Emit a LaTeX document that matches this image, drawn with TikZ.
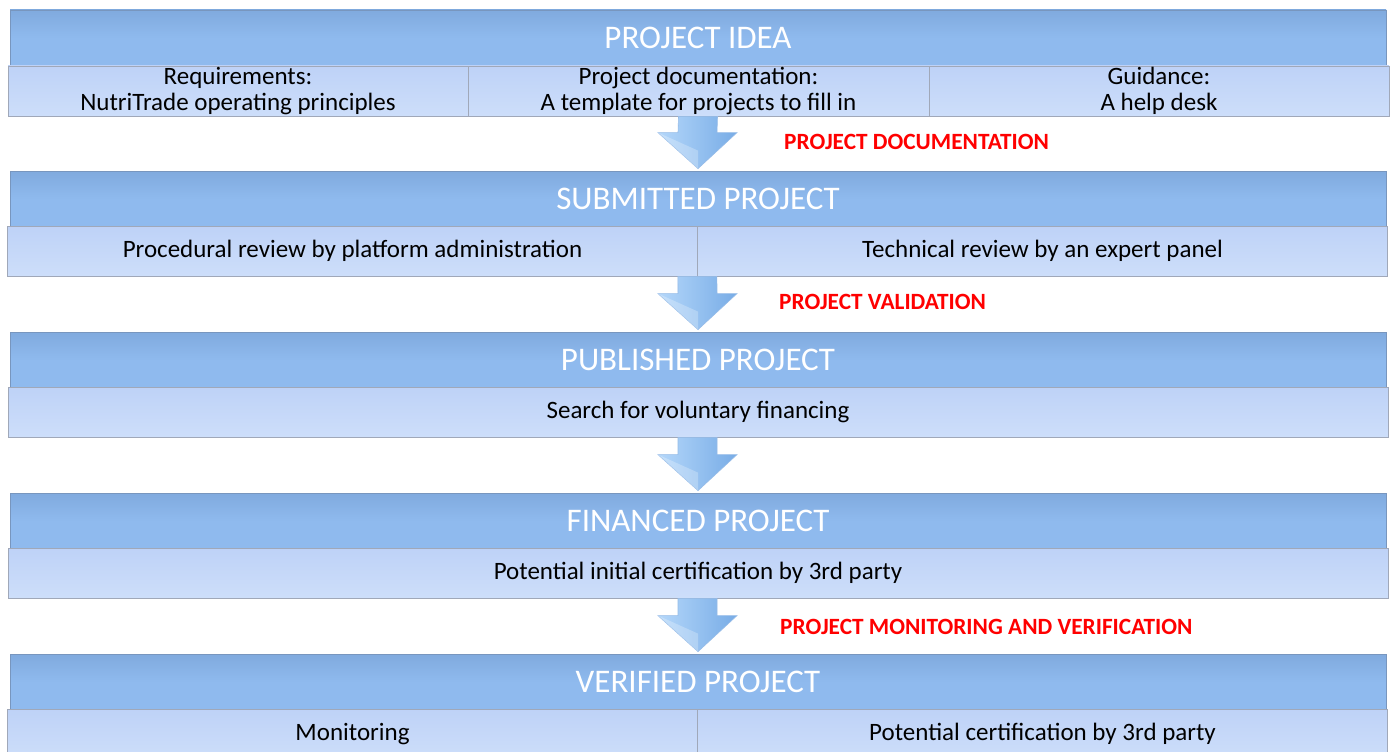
\documentclass[tikz,border=0pt]{standalone}
\usepackage{fontspec}
\setmainfont{Carlito}
\usetikzlibrary{calc}
\definecolor{hdrfill}{RGB}{143,186,238}
\definecolor{hdrtop}{RGB}{128,170,222}
\definecolor{hdredge}{RGB}{120,150,190}
\definecolor{subtop}{RGB}{190,210,247}
\definecolor{subbot}{RGB}{205,222,250}
\definecolor{subedge}{RGB}{160,168,185}
\definecolor{arrL}{RGB}{180,215,250}
\definecolor{arrR}{RGB}{120,172,230}
\definecolor{arrEdge}{RGB}{150,188,232}
\definecolor{lblred}{RGB}{255,0,0}
\tikzset{
  hdr/.style={rectangle, draw=hdredge, line width=0.8pt, top color=hdrtop, bottom color=hdrfill, middle color=hdrfill,
     minimum width=1376pt, minimum height=56pt, inner sep=0pt, text=white, font=\fontsize{33}{36}\selectfont},
  subbox/.style={rectangle, draw=subedge, line width=0.8pt, top color=subtop, bottom color=subbot,
     minimum height=50pt, inner sep=0pt, align=center, text=black, font=\fontsize{25}{26}\selectfont},
  lbl/.style={anchor=west, inner sep=0pt, text=lblred, font=\bfseries\fontsize{23.3}{26}\selectfont},
  blockarrow/.style={left color=arrL, right color=arrR, draw=arrEdge, line width=0.6pt}
}
% #1 source point (bottom of a sub box), #2 target point (top of a header)
\newcommand{\flowarrow}[2]{%
  \path[blockarrow]
    ($(#1)+(-20,0)$) -- ($(#1)+(19,0)$) --
    ($(#2)+(19,-38)$) -- ($(#2)+(39,-38)$) --
    ($(#2)+(0,-2)$) --
    ($(#2)+(-40,-38)$) -- ($(#2)+(-20,-38)$) -- cycle;
  \fill[white,opacity=0.25] ($(#2)+(-40,-38)$) -- ($(#2)+(0,-20)$) -- ($(#2)+(0,-2)$) -- cycle;
}
\begin{document}
\begin{tikzpicture}[x=1pt,y=-1pt]
\useasboundingbox[fill=white] (0,0) rectangle (1395,752);
% band 1
\node[hdr] (h1) at (698,38) {PROJECT IDEA};
\node[subbox, minimum width=460pt] (s1a) at (238,91) {Requirements:\\NutriTrade operating principles};
\node[subbox, minimum width=461pt] (s1b) at (698.5,91) {Project documentation:\\A template for projects to fill in};
\node[subbox, minimum width=460pt] (s1c) at (1159,91) {Guidance:\\A help desk};
% band 2
\node[hdr] (h2) at (698,199) {SUBMITTED PROJECT};
\node[subbox, minimum width=690pt] (s2a) at (352.5,251) {Procedural review by platform administration};
\node[subbox, minimum width=690pt] (s2b) at (1042.5,251) {Technical review by an expert panel};
% band 3
\node[hdr] (h3) at (698,360) {PUBLISHED PROJECT};
\node[subbox, minimum width=1380pt] (s3) at (698,412) {Search for voluntary financing};
% band 4
\node[hdr] (h4) at (698,521) {FINANCED PROJECT};
\node[subbox, minimum width=1380pt] (s4) at (698,573) {Potential initial certification by 3rd party};
% band 5
\node[hdr] (h5) at (698,682) {VERIFIED PROJECT};
\node[subbox, minimum width=690pt] (s5a) at (352.5,734) {Monitoring};
\node[subbox, minimum width=690pt] (s5b) at (1042.5,734) {Potential certification by 3rd party};
% arrows
\flowarrow{s1b.south}{h2.north}
\flowarrow{s2a.south east}{h3.north}
\flowarrow{s3.south}{h4.north}
\flowarrow{s4.south}{h5.north}
% labels
\node[lbl] (l1) at (784,142) {PROJECT DOCUMENTATION};
\node[lbl] (l2) at (779,302) {PROJECT VALIDATION};
\node[lbl] (l3) at (780,627) {PROJECT MONITORING AND VERIFICATION};
\end{tikzpicture}
\end{document}
